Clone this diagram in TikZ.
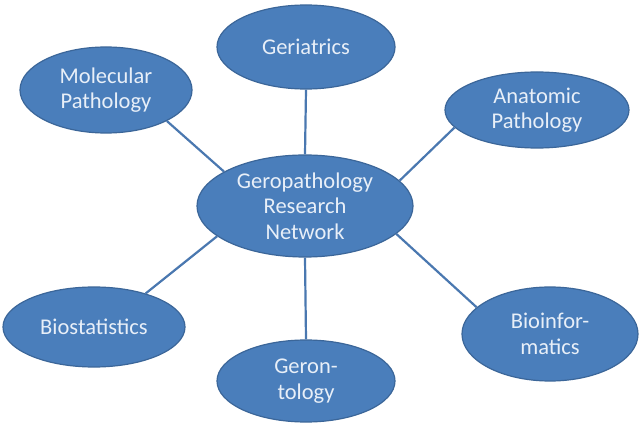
\documentclass[tikz,border=0pt]{standalone}
\usepackage{fontspec}
\setmainfont{Carlito}
\usetikzlibrary{shapes.geometric}
\definecolor{bfill}{HTML}{4A7EBB}
\definecolor{bdraw}{HTML}{3B6699}
\definecolor{bline}{HTML}{4A78B0}
\definecolor{btext}{HTML}{E8EFF8}
\begin{document}
\begin{tikzpicture}[x=1pt,y=1pt,
  bub/.style={ellipse,fill=bfill,draw=bdraw,line width=1.2pt,inner sep=0pt,
    text=btext,align=center,font=\fontsize{22.5}{25.5}\selectfont},
  link/.style={draw=bline,line width=2.2pt}]
\useasboundingbox[fill=white] (0,0) rectangle (640,426);
\node[bub,minimum width=216,minimum height=102] (c) at (305,220) {Geropathology\\Research\\Network};
\node[bub,minimum width=178,minimum height=84] (g) at (306,379) {Geriatrics};
\node[bub,minimum width=172,minimum height=86] (m) at (106,336) {Molecular\\Pathology};
\node[bub,minimum width=184,minimum height=76] (a) at (537,316) {Anatomic\\Pathology};
\node[bub,minimum width=182,minimum height=80] (b) at (94,99) {Biostatistics};
\node[bub,minimum width=176,minimum height=94] (i) at (550,92) {Bioinfor-\\matics};
\node[bub,minimum width=178,minimum height=82] (t) at (306,45) {Geron-\\tology};
\draw[link] (g.south) -- (c.north);
\draw[link] (t.north) -- (c.south);
\draw[link] (m.-27) -- (c.157);
\draw[link] (a.192) -- (c.15);
\draw[link] (b.33) -- (c.199);
\draw[link] (i.160) -- (c.-17);
\end{tikzpicture}
\end{document}
